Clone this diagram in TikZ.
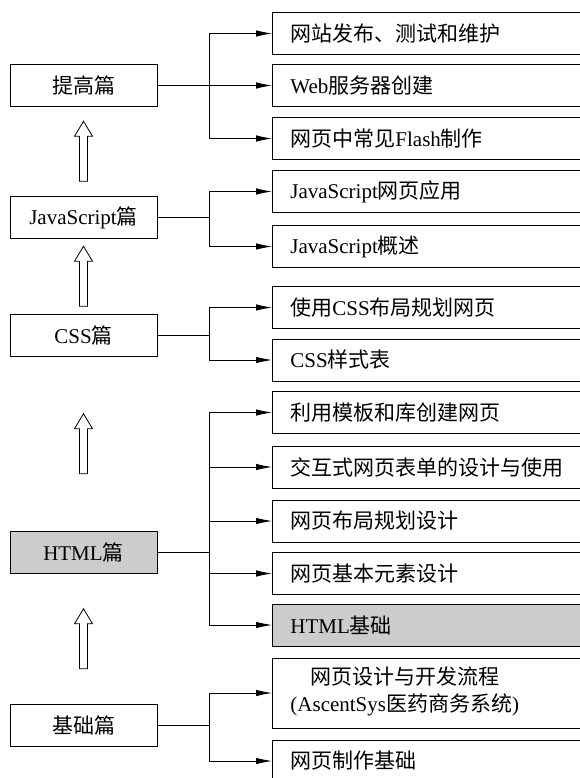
\documentclass[tikz,border=0pt]{standalone}
\usepackage{fontspec}
\setmainfont{Liberation Serif}
\newfontfamily\zh{Noto Sans CJK SC}
\usetikzlibrary{calc,arrows.meta}
\definecolor{shade}{gray}{0.8}

\begin{document}
\begin{tikzpicture}
  [
    x                   = 1pt,
    y                   = -1pt,
    line width          = 0.85pt,
    every node/.style   = {font=\fontsize{21}{27}\selectfont},
    part/.style         = {draw, minimum width=147pt, minimum height=42pt},
    topic/.style        = {draw, anchor=west, text width=300pt, inner xsep=18pt,
                           align=left, minimum height=42pt},
    link/.style         = {draw, -{Latex[length=16pt, width=6.5pt]}},
    hollow/.pic         = {\draw[fill=white] (-4,30) -- (4,30) -- (4,-15) -- (9,-15)
                           -- (0,-30) -- (-9,-15) -- (-4,-15) -- cycle;}
  ]
  \path[use as bounding box, clip] (0,0) rectangle (580,778);

  \node[part] (tigao) at (83.5,85)    {\zh 提高篇};
  \node[part] (js)    at (83.5,217.5) {JavaScript{\zh 篇}};
  \node[part] (css)   at (83.5,335)   {CSS{\zh 篇}};
  \node[part, fill=shade] (html) at (83.5,552.5) {HTML{\zh 篇}};
  \node[part] (jichu) at (83.5,725)   {\zh 基础篇};

  \node[topic] (fabu)   at (272,33.5)  {\zh 网站发布、测试和维护};
  \node[topic] (web)    at (272,85.5)  {Web{\zh 服务器创建}};
  \node[topic] (flash)  at (272,138.5) {{\zh 网页中常见}Flash{\zh 制作}};
  \node[topic] (jsyy)   at (272,191.5) {JavaScript{\zh 网页应用}};
  \node[topic] (jsgs)   at (272,246.5) {JavaScript{\zh 概述}};
  \node[topic] (buju)   at (272,307.5) {{\zh 使用}CSS{\zh 布局规划网页}};
  \node[topic] (ysb)    at (272,360)   {CSS{\zh 样式表}};
  \node[topic] (muban)  at (272,412.5) {\zh 利用模板和库创建网页};
  \node[topic] (biaodan) at (272,467)  {\zh 交互式网页表单的设计与使用};
  \node[topic] (guihua) at (272,521)   {\zh 网页布局规划设计};
  \node[topic] (yuansu) at (272,573.5) {\zh 网页基本元素设计};
  \node[topic, fill=shade] (hjc) at (272,625) {HTML{\zh 基础}};
  \node[topic, minimum height=70pt] (liucheng) at (272,693)
    {\begin{tabular}{@{}c@{}}{\zh 网页设计与开发流程}\\({AscentSys}{\zh 医药商务系统})\end{tabular}};
  \node[topic] (zhizuo) at (272,761)   {\zh 网页制作基础};

  \foreach \p/\c in {tigao/fabu, tigao/web, tigao/flash, js/jsyy, js/jsgs,
                     css/buju, css/ysb, html/muban, html/biaodan, html/guihua,
                     html/yuansu, html/hjc, jichu/liucheng, jichu/zhizuo}
    \draw[link] (\p.east) -- ++(52,0) |- (\c.west);

  \pic at ($(js.north)!0.5!(tigao.south)$) {hollow};
  \pic at ($(css.north)!0.5!(js.south)$) {hollow};
  \pic at ($(html.north)!0.5!(css.south)$) {hollow};
  \pic at ($(jichu.north)!0.5!(html.south)$) {hollow};
\end{tikzpicture}
\end{document}
